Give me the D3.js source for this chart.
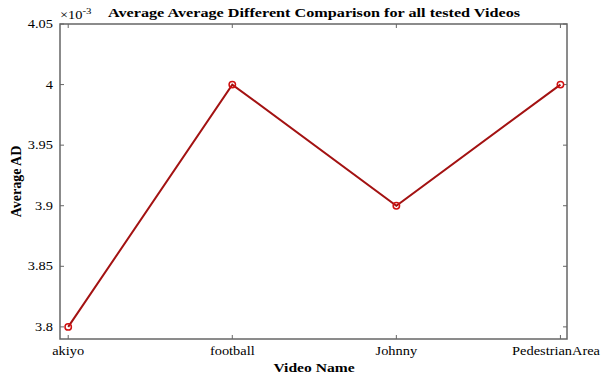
<!DOCTYPE html>
<head>
<meta charset="utf-8">
<style>
body { margin: 0; background: #fff; }
text { font-family: "Liberation Serif", "Times New Roman", serif; fill: #000; }
</style>
</head>
<body>
<script src="https://cdnjs.cloudflare.com/ajax/libs/d3/7.8.5/d3.min.js"></script>
<script>

// values are in units of 1e-3
var videos = ['akiyo', 'football', 'Johnny', 'PedestrianArea'];
var avgAD = [3.8, 4.0, 3.9, 4.0];
var yTicks = [3.8, 3.85, 3.9, 3.95, 4, 4.05];

var width = 604,
    height = 378;
var pLeft = 60, pRight = 567, pTop = 24, pBottom = 339;
var sx = 1.2; // the figure text looks stretched sideways

var svg = d3.select("body").append("svg")
    .attr("width", width)
    .attr("height", height);

var x = d3.scaleLinear().domain([-0.05, 3.04]).range([pLeft, pRight]);
var y = d3.scaleLinear().domain([3.79, 4.05]).range([pBottom, pTop]);

var axisColor = '#666';

function label(px, py, anchor, size) {
  return svg.append("text")
    .attr("transform", "translate(" + px + "," + py + ") scale(" + sx + ",1)")
    .attr("text-anchor", anchor)
    .style("font-size", size);
}

// box
svg.append("rect")
    .attr("x", pLeft).attr("y", pTop)
    .attr("width", pRight - pLeft).attr("height", pBottom - pTop)
    .attr("fill", "none").attr("stroke", axisColor).attr("stroke-width", 1.5);

// inward ticks, mirrored like matlab
var tl = 4;
yTicks.forEach(function(t) {
  svg.append("line").attr("x1", pLeft).attr("x2", pLeft + tl)
    .attr("y1", y(t)).attr("y2", y(t)).attr("stroke", axisColor);
  svg.append("line").attr("x1", pRight).attr("x2", pRight - tl)
    .attr("y1", y(t)).attr("y2", y(t)).attr("stroke", axisColor);
  label(pLeft - 7, y(t) + 4, "end", "12px").text(d3.format("")(t));
});
videos.forEach(function(v, i) {
  svg.append("line").attr("x1", x(i)).attr("x2", x(i))
    .attr("y1", pBottom).attr("y2", pBottom - tl).attr("stroke", axisColor);
  svg.append("line").attr("x1", x(i)).attr("x2", x(i))
    .attr("y1", pTop).attr("y2", pTop + tl).attr("stroke", axisColor);
  var t = label(x(i), pBottom + 16, "middle", "12px").text(v);
  // keep the last label inside the picture
  var w = t.node().getComputedTextLength() * sx;
  if (x(i) + w / 2 > width - 4) {
    t.attr("transform", "translate(" + (width - 4 - w / 2) + "," + (pBottom + 16) + ") scale(" + sx + ",1)");
  }
});

// exponent label
var ex = label(pLeft, pTop - 5, "start", "12px");
ex.append("tspan").text("\u00d710");
ex.append("tspan").attr("dy", -5).style("font-size", "9px").text("-3");

// line
var line = d3.line()
    .x(function(d, i) { return x(i); })
    .y(function(d) { return y(d); });

svg.append("path")
    .datum(avgAD)
    .attr("d", line)
    .attr("fill", "none")
    .attr("stroke", "#a31212")
    .attr("stroke-width", 2);

svg.selectAll("circle.pt")
    .data(avgAD)
  .enter().append("circle")
    .attr("class", "pt")
    .attr("cx", function(d, i) { return x(i); })
    .attr("cy", function(d) { return y(d); })
    .attr("r", 3.2)
    .attr("fill", "none")
    .attr("stroke", "#d01010")
    .attr("stroke-width", 1.5);

// titles
label(314, 17, "middle", "13.5px").style("font-weight", "bold")
    .text("Average Average Different Comparison for all tested Videos");

label(314, 372, "middle", "13px").style("font-weight", "bold")
    .text("Video Name");

svg.append("text")
    .attr("transform", "translate(21," + ((pTop + pBottom) / 2) + ") rotate(-90)")
    .attr("text-anchor", "middle")
    .style("font-size", "14px").style("font-weight", "bold")
    .text("Average AD");

</script>
</body>
</html>
